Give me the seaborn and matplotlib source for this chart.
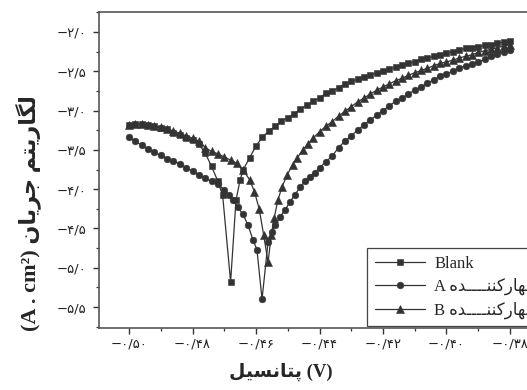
import numpy as np
import pandas as pd
import seaborn as sns
import matplotlib.pyplot as plt
from matplotlib.ticker import FixedLocator, MultipleLocator

sns.set_theme(style="ticks")
plt.rcParams['font.family'] = ['DejaVu Sans']

# Potentiodynamic polarisation data: potential (V) and log current density
blank_x = [-0.500, -0.498, -0.496, -0.494, -0.492, -0.490, -0.488, -0.486, -0.484, -0.482,
           -0.480, -0.478, -0.476, -0.474, -0.472, -0.4705, -0.468, -0.4663, -0.465, -0.464,
           -0.462, -0.460, -0.458, -0.456, -0.454, -0.452, -0.450, -0.448, -0.446, -0.444,
           -0.442, -0.440, -0.438, -0.436, -0.434, -0.432, -0.430, -0.428, -0.426, -0.424,
           -0.422, -0.420, -0.418, -0.416, -0.414, -0.412, -0.410, -0.408, -0.406, -0.404,
           -0.402, -0.400, -0.398, -0.396, -0.394, -0.392, -0.390, -0.388, -0.386, -0.384,
           -0.382, -0.380]
blank_y = [-3.18, -3.17, -3.17, -3.18, -3.20, -3.22, -3.24, -3.28, -3.31, -3.35,
           -3.38, -3.43, -3.54, -3.71, -3.90, -4.08, -5.18, -4.14, -3.88, -3.75,
           -3.60, -3.45, -3.34, -3.26, -3.20, -3.13, -3.09, -3.04, -2.98, -2.93,
           -2.88, -2.84, -2.78, -2.75, -2.71, -2.66, -2.63, -2.60, -2.57, -2.55,
           -2.52, -2.50, -2.47, -2.45, -2.42, -2.40, -2.38, -2.35, -2.33, -2.31,
           -2.29, -2.27, -2.25, -2.23, -2.21, -2.20, -2.19, -2.17, -2.16, -2.14,
           -2.13, -2.12]

inhA_x = [-0.500, -0.498, -0.496, -0.494, -0.492, -0.490, -0.488, -0.486, -0.484, -0.482,
          -0.480, -0.478, -0.476, -0.474, -0.472, -0.470, -0.4685, -0.4672, -0.4657, -0.4641,
          -0.4625, -0.4609, -0.4597, -0.4581, -0.4562, -0.4550, -0.4540, -0.4524, -0.4509, -0.4493,
          -0.4477, -0.4461, -0.4445, -0.4430, -0.4415, -0.440, -0.438, -0.436, -0.434, -0.432,
          -0.430, -0.428, -0.426, -0.424, -0.422, -0.420, -0.418, -0.416, -0.414, -0.412,
          -0.410, -0.408, -0.406, -0.404, -0.402, -0.400, -0.398, -0.396, -0.394, -0.392,
          -0.390, -0.388, -0.386, -0.384, -0.382, -0.380]
inhA_y = [-3.34, -3.39, -3.44, -3.49, -3.53, -3.57, -3.61, -3.64, -3.68, -3.73,
          -3.77, -3.82, -3.86, -3.90, -3.94, -4.01, -4.07, -4.14, -4.23, -4.32,
          -4.46, -4.65, -4.77, -5.40, -4.67, -4.55, -4.46, -4.35, -4.27, -4.16,
          -4.07, -3.97, -3.90, -3.84, -3.79, -3.73, -3.65, -3.58, -3.47, -3.39,
          -3.32, -3.25, -3.18, -3.12, -3.06, -3.00, -2.94, -2.88, -2.84, -2.79,
          -2.74, -2.70, -2.65, -2.61, -2.56, -2.53, -2.50, -2.46, -2.43, -2.41,
          -2.38, -2.35, -2.31, -2.28, -2.25, -2.23]

inhB_x = [-0.500, -0.498, -0.496, -0.494, -0.492, -0.490, -0.488, -0.486, -0.484, -0.482,
          -0.480, -0.478, -0.476, -0.474, -0.472, -0.470, -0.468, -0.466, -0.464, -0.462,
          -0.4605, -0.459, -0.4576, -0.4562, -0.4552, -0.4543, -0.4531, -0.4518, -0.4502, -0.4485,
          -0.447, -0.4452, -0.4436, -0.442, -0.440, -0.438, -0.436, -0.434, -0.432, -0.430,
          -0.428, -0.426, -0.424, -0.422, -0.420, -0.418, -0.416, -0.414, -0.412, -0.410,
          -0.408, -0.406, -0.404, -0.402, -0.400, -0.398, -0.396, -0.394, -0.392, -0.390,
          -0.388, -0.386, -0.384, -0.382, -0.380]
inhB_y = [-3.18, -3.17, -3.17, -3.18, -3.19, -3.21, -3.23, -3.26, -3.29, -3.32,
          -3.35, -3.39, -3.47, -3.52, -3.55, -3.59, -3.63, -3.67, -3.76, -3.88,
          -4.03, -4.25, -4.58, -4.93, -4.58, -4.37, -4.14, -3.97, -3.82, -3.69,
          -3.60, -3.50, -3.42, -3.35, -3.27, -3.20, -3.14, -3.07, -3.01, -2.95,
          -2.89, -2.84, -2.79, -2.74, -2.70, -2.66, -2.62, -2.59, -2.55, -2.52,
          -2.49, -2.46, -2.43, -2.40, -2.38, -2.36, -2.33, -2.31, -2.29, -2.26,
          -2.24, -2.22, -2.20, -2.18, -2.16]

y_ticks = [-2.0, -2.5, -3.0, -3.5, -4.0, -4.5, -5.0, -5.5]
y_tick_labels = ['\u2212۲/۰', '\u2212۲/۵', '\u2212۳/۰', '\u2212۳/۵',
                 '\u2212۴/۰', '\u2212۴/۵', '\u2212۵/۰', '\u2212۵/۵']
x_ticks = [-0.50, -0.48, -0.46, -0.44, -0.42, -0.40, -0.38]
x_tick_labels = ['\u2212۰/۵۰', '\u2212۰/۴۸', '\u2212۰/۴۶', '\u2212۰/۴۴',
                 '\u2212۰/۴۲', '\u2212۰/۴۰', '\u2212۰/۳۸']

# Persian strings written in display order with contextual letter forms
lbl_blank = 'Blank'
lbl_A = 'A \ufee9\ufeaa\u0640\u0640\u0640\u0640\ufee8\ufee8\ufb90\ufead\ufe8e\ufeec\ufee3'
lbl_B = 'B \ufee9\ufeaa\u0640\u0640\u0640\u0640\ufee8\ufee8\ufb90\ufead\ufe8e\ufeec\ufee3'
xlabel = '\ufede\ufbff\ufeb4\ufee7\ufe8e\ufe98\ufb58 (V)'
ylabel = ('(A . cm\u00b2) \ufee5\ufe8e\ufbfe\ufeae\ufe9f '
          '\ufee2\ufe98\ufbfe\ufead\ufe8e\ufb95\ufedf')

ink = '#333333'
W, H = 527, 390
fig = plt.figure(figsize=(W / 100, H / 100), dpi=100)
ax = fig.add_axes([99 / W, 62 / H, 431 / W, 316 / H])

series = [
    (blank_x, blank_y, 's', 4.4, lbl_blank),
    (inhA_x, inhA_y, 'o', 4.8, lbl_A),
    (inhB_x, inhB_y, '^', 5.2, lbl_B),
]
for xs, ys, mk, ms, lab in series:
    df = pd.DataFrame({'E': xs, 'logi': ys})
    sns.lineplot(data=df, x='E', y='logi', ax=ax, sort=False, estimator=None,
                 color=ink, lw=0.9, marker=mk, markersize=ms,
                 markeredgecolor=ink, markerfacecolor=ink, markeredgewidth=0.4,
                 label=lab)

ax.set_xlim(-0.50945, -0.3737)
ax.set_ylim(-5.766, -1.746)

ax.xaxis.set_major_locator(FixedLocator(x_ticks))
ax.set_xticklabels(x_tick_labels)
ax.xaxis.set_minor_locator(MultipleLocator(0.01))
ax.yaxis.set_major_locator(FixedLocator(y_ticks))
ax.set_yticklabels(y_tick_labels)
ax.yaxis.set_minor_locator(MultipleLocator(0.25))

ax.tick_params(which='major', direction='out', length=4, width=1.0,
               color=ink, labelsize=9.5, labelcolor='#222222', pad=3)
ax.tick_params(which='minor', direction='out', length=2.5, width=0.9, color=ink)
ax.tick_params(axis='y', which='major', pad=5)

for s in ax.spines.values():
    s.set_color('#555555')
    s.set_linewidth(1.2)

ax.set_xlabel('')
ax.set_ylabel('')
fig.text(281 / W, 1 - 372 / H, xlabel, ha='center', va='center',
         fontsize=13.5, fontweight='bold', family=['Liberation Serif', 'DejaVu Sans'])
fig.text(28 / W, 1 - 213 / H, ylabel, ha='center', va='center', rotation=90,
         fontsize=16, fontweight='bold', family=['Liberation Serif', 'DejaVu Sans'])

leg = ax.legend(loc='upper left', bbox_to_anchor=(367 / W, 1 - 248 / H),
                bbox_transform=fig.transFigure, borderaxespad=0,
                frameon=True, fancybox=False, framealpha=1, edgecolor='#444444',
                handlelength=3.0, handletextpad=0.6, labelspacing=0.38,
                borderpad=0.45,
                prop={'family': ['Liberation Serif', 'DejaVu Sans'], 'size': 12})
leg.get_frame().set_linewidth(0.9)

fig.savefig('out.png', dpi=100)
